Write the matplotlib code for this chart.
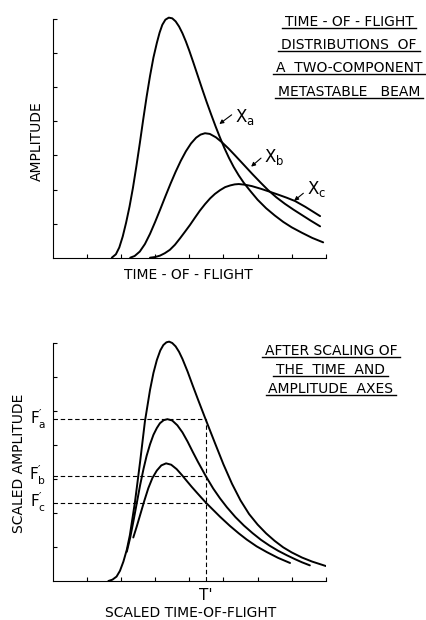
import numpy as np
import matplotlib
matplotlib.use('Agg')
import matplotlib.pyplot as plt
from matplotlib.lines import Line2D
from matplotlib import font_manager

# values (axis units: 8 ticks along x, 7 along y)
# upper panel: raw time-of-flight distributions
tof_a_x = [1.73, 1.85, 1.95, 2.05, 2.15, 2.25, 2.35, 2.45, 2.55, 2.65, 2.75, 2.85, 2.95, 3.05,
           3.13, 3.21, 3.3, 3.4, 3.5, 3.6, 3.7, 3.8, 3.9, 4.0, 4.12, 4.25, 4.38, 4.51, 4.64,
           4.77, 4.9, 5.03, 5.16, 5.3, 5.45, 5.6, 5.8, 6.0, 6.25, 6.5, 6.75, 7.0, 7.3, 7.6, 7.92]
tof_a_y = [0.0, 0.1, 0.3, 0.62, 1.03, 1.5, 2.05, 2.68, 3.35, 4.05, 4.72, 5.33, 5.87, 6.3,
           6.6, 6.83, 6.98, 7.04, 7.02, 6.93, 6.78, 6.58, 6.34, 6.07, 5.72, 5.33, 4.94, 4.56, 4.2,
           3.85, 3.52, 3.21, 2.93, 2.66, 2.41, 2.19, 1.94, 1.7, 1.45, 1.24, 1.05, 0.89, 0.73, 0.58, 0.45]

tof_b_x = [2.27, 2.4, 2.55, 2.7, 2.85, 3.0, 3.15, 3.3, 3.45, 3.6, 3.75, 3.9, 4.05, 4.2, 4.33,
           4.46, 4.6, 4.78, 4.95, 5.15, 5.34, 5.6, 5.85, 6.1, 6.31, 6.55, 6.8, 7.05, 7.3, 7.55, 7.83]
tof_b_y = [0.0, 0.05, 0.18, 0.4, 0.7, 1.05, 1.42, 1.8, 2.17, 2.52, 2.84, 3.12, 3.35, 3.52, 3.61,
           3.65, 3.63, 3.53, 3.39, 3.2, 3.0, 2.72, 2.45, 2.19, 1.98, 1.77, 1.58, 1.41, 1.25, 1.09, 0.92]

tof_c_x = [2.85, 3.0, 3.14, 3.28, 3.43, 3.58, 3.73, 3.88, 4.02, 4.17, 4.31, 4.46, 4.61, 4.75,
           4.9, 5.05, 5.2, 5.33, 5.45, 5.63, 5.83, 6.1, 6.31, 6.6, 6.85, 7.1, 7.4, 7.83]
tof_c_y = [0.0, 0.02, 0.06, 0.13, 0.23, 0.38, 0.57, 0.77, 0.96, 1.18, 1.38, 1.57, 1.74, 1.87,
           1.98, 2.07, 2.12, 2.15, 2.16, 2.14, 2.1, 2.02, 1.95, 1.85, 1.76, 1.66, 1.49, 1.22]

# lower panel: after scaling time and amplitude
sc_a_x = [1.63, 1.75, 1.87, 1.97, 2.07, 2.17, 2.26, 2.41, 2.56, 2.70, 2.85, 2.95, 3.05, 3.15,
          3.24, 3.33, 3.41, 3.5, 3.6, 3.7, 3.8, 3.95, 4.1, 4.25, 4.48, 4.75, 5.0, 5.25, 5.5,
          5.75, 6.0, 6.25, 6.5, 6.75, 7.0, 7.3, 7.6, 8.0]
sc_a_y = [0.0, 0.04, 0.13, 0.3, 0.57, 0.92, 1.35, 2.33, 3.51, 4.69, 5.62, 6.12, 6.5, 6.78,
          6.94, 7.02, 7.04, 7.0, 6.9, 6.74, 6.53, 6.16, 5.75, 5.35, 4.75, 4.06, 3.43, 2.86, 2.37,
          1.97, 1.66, 1.4, 1.18, 0.99, 0.84, 0.69, 0.57, 0.44]

sc_b_x = [2.17, 2.27, 2.36, 2.46, 2.56, 2.66, 2.75, 2.85, 2.95, 3.05, 3.14, 3.25, 3.36, 3.5,
          3.65, 3.8, 3.95, 4.1, 4.25, 4.48, 4.7, 4.9, 5.1, 5.35, 5.6, 5.85, 6.1, 6.35, 6.6,
          6.85, 7.1, 7.3, 7.53]
sc_b_y = [0.86, 1.28, 1.74, 2.28, 2.82, 3.3, 3.68, 4.02, 4.3, 4.5, 4.64, 4.73, 4.76, 4.72,
          4.58, 4.37, 4.1, 3.8, 3.51, 3.09, 2.72, 2.43, 2.17, 1.88, 1.63, 1.41, 1.21, 1.04, 0.89,
          0.76, 0.64, 0.55, 0.46]

sc_c_x = [2.36, 2.46, 2.56, 2.68, 2.8, 2.92, 3.05, 3.18, 3.32, 3.47, 3.63, 3.78, 3.92, 4.07,
          4.22, 4.48, 4.7, 4.9, 5.19, 5.45, 5.68, 5.97, 6.27, 6.6, 6.95]
sc_c_y = [1.28, 1.6, 1.94, 2.35, 2.73, 3.03, 3.25, 3.4, 3.46, 3.42, 3.29, 3.12, 2.95, 2.77,
          2.6, 2.31, 2.09, 1.89, 1.62, 1.4, 1.22, 1.02, 0.85, 0.68, 0.53]

# reference levels in the scaled panel
t_prime = 4.48
f_levels = [4.76, 3.1, 2.3]
f_labels = ["F$_a^{\\prime}$", "F$_b^{\\prime}$", "F$_c^{\\prime}$"]

x_ticks = [1, 2, 3, 4, 5, 6, 7, 8]
y_ticks = [1, 2, 3, 4, 5, 6, 7]

title_top = ["TIME - OF - FLIGHT", "DISTRIBUTIONS  OF", "A  TWO-COMPONENT", "METASTABLE   BEAM"]
title_bot = ["AFTER SCALING OF", "THE  TIME  AND", "AMPLITUDE  AXES"]

# narrow lettering if the system has it, otherwise plain DejaVu
names = {f.name for f in font_manager.fontManager.ttflist}
narrow = 'Liberation Sans Narrow' in names
plt.rcParams['font.family'] = ['Liberation Sans Narrow', 'DejaVu Sans'] if narrow else ['DejaVu Sans']
plt.rcParams['mathtext.default'] = 'regular'
fs = 12.5 if narrow else 10

W, H = 427, 620
fig = plt.figure(figsize=(W / 100, H / 100), dpi=100)


def frame(ax):
    '''bare axes: left and bottom spines with inward ticks, no labels'''
    ax.set_xlim(0, 8)
    ax.set_ylim(0, 7.25)
    for s in ['top', 'right']:
        ax.spines[s].set_visible(False)
    ax.spines['left'].set_bounds(0, 7)
    for s in ['left', 'bottom']:
        ax.spines[s].set_linewidth(0.8)
    ax.set_xticks(x_ticks)
    ax.set_yticks(y_ticks)
    ax.tick_params(direction='in', length=3, width=0.8, labelbottom=False, labelleft=False)
    ax.patch.set_visible(False)


ax1 = fig.add_axes([52.7 / W, 1 - 257.7 / H, 273.2 / W, 7.25 * 34.1 / H])
ax2 = fig.add_axes([52.7 / W, 1 - 581.0 / H, 273.2 / W, 7.25 * 34.0 / H])
frame(ax1)
frame(ax2)

lw = 1.4
style = dict(color='black', lw=lw, solid_capstyle='round', solid_joinstyle='round')
ax1.plot(tof_a_x, tof_a_y, **style)
ax1.plot(tof_b_x, tof_b_y, **style)
ax1.plot(tof_c_x, tof_c_y, **style)

# curve labels with little arrows
arrow = dict(arrowstyle='-|>', color='black', lw=0.8, mutation_scale=6, shrinkA=0, shrinkB=0)
for lab, tail, head, pos in [("X$_a$", (5.24, 4.19), (4.88, 3.92), (5.34, 4.13)),
                             ("X$_b$", (6.1, 2.92), (5.81, 2.67), (6.19, 2.95)),
                             ("X$_c$", (7.34, 1.89), (7.07, 1.67), (7.44, 2.01))]:
    ax1.annotate('', xy=head, xytext=tail, arrowprops=arrow)
    ax1.text(pos[0], pos[1], lab, fontsize=fs + 2, ha='left', va='center')

ax2.plot(sc_a_x, sc_a_y, **style)
ax2.plot(sc_b_x, sc_b_y, **style)
ax2.plot(sc_c_x, sc_c_y, **style)

for lev, lab in zip(f_levels, f_labels):
    ax2.plot([0, t_prime], [lev, lev], color='black', lw=0.8, dashes=(4, 2.5))
    ax2.text(-0.18, lev, lab, fontsize=fs + 1, ha='right', va='center')
ax2.plot([t_prime, t_prime], [0, f_levels[0]], color='black', lw=0.8, dashes=(4, 2.5))
ax2.text(t_prime, -0.22, "T'", fontsize=fs + 1, ha='center', va='top')

# axis titles
fig.text(188 / W, 1 - 275 / H, "TIME - OF - FLIGHT", fontsize=fs, ha='center', va='center')
fig.text(37 / W, 1 - 141 / H, "AMPLITUDE", fontsize=fs, rotation=90, ha='center', va='center')
fig.text(191 / W, 1 - 613 / H, "SCALED TIME-OF-FLIGHT", fontsize=fs, ha='center', va='center')
fig.text(19 / W, 1 - 463 / H, "SCALED AMPLITUDE", fontsize=fs, rotation=90, ha='center', va='center')

# underlined caption blocks
blocks = []
for i, s in enumerate(title_top):
    blocks.append(fig.text(349 / W, 1 - (21.7 + 23.3 * i) / H, s, fontsize=fs,
                           ha='center', va='center'))
for i, s in enumerate(title_bot):
    blocks.append(fig.text(331 / W, 1 - (350.7 + 19.2 * i) / H, s, fontsize=fs,
                           ha='center', va='center'))

fig.canvas.draw()
inv = fig.transFigure.inverted()
for t in blocks:
    bb = t.get_window_extent()
    (x0, y0), (x1, _) = inv.transform([(bb.x0 - 3, bb.y0 + 1), (bb.x1 + 3, bb.y0 + 1)])
    fig.add_artist(Line2D([x0, x1], [y0, y0], transform=fig.transFigure, color='black', lw=1.0))

fig.savefig('out.png', dpi=100, facecolor='white')
